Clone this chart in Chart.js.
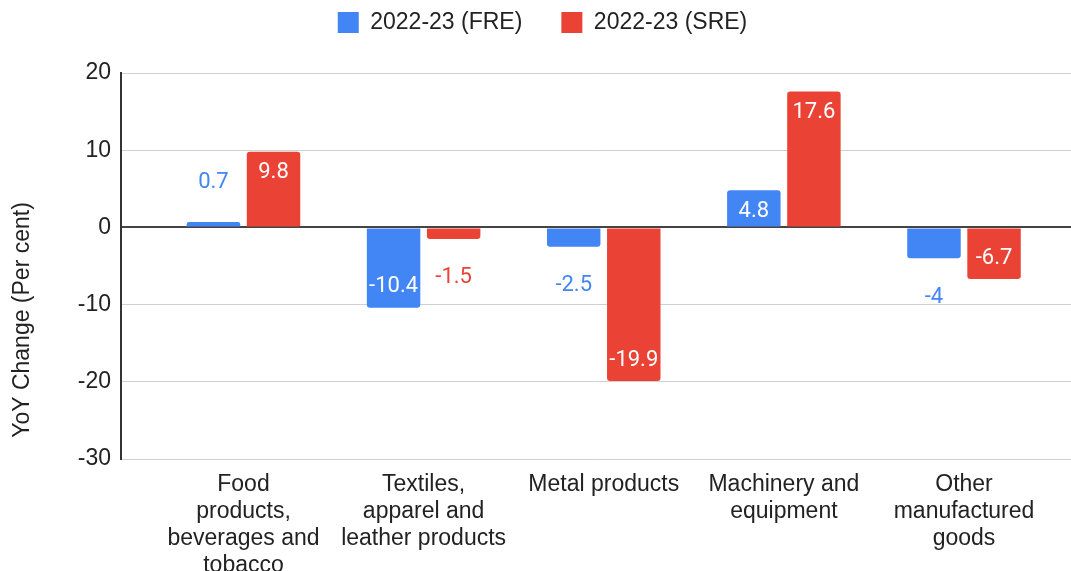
<!DOCTYPE html>
<html>
<head>
<meta charset="utf-8">
<script src="https://cdn.jsdelivr.net/npm/chart.js@4.4.1/dist/chart.umd.min.js"></script>
<style>
  html, body { margin: 0; padding: 0; background: #fff; }
</style>
</head>
<body>
<canvas id="chart" width="1071" height="571"></canvas>
<script>
// chart data
const categories = [
  ['Food', 'products,', 'beverages and', 'tobacco'],
  ['Textiles,', 'apparel and', 'leather products'],
  ['Metal products'],
  ['Machinery and', 'equipment'],
  ['Other', 'manufactured', 'goods']
];
const seriesNames = ['2022-23 (FRE)', '2022-23 (SRE)'];
const freValues = [0.7, -10.4, -2.5, 4.8, -4];
const sreValues = [9.8, -1.5, -19.9, 17.6, -6.7];
const yTicks = [20, 10, 0, -10, -20, -30];
const yTitle = 'YoY Change (Per cent)';

const BLUE = '#4285f4';
const RED = '#ea4335';
const FONT = "'Liberation Sans', Arial, sans-serif";

// bar value labels, inside the bar when it is tall enough, else beyond its end
const valueLabels = {
  id: 'valueLabels',
  afterDatasetsDraw(chart) {
    const ctx = chart.ctx;
    ctx.save();
    ctx.font = '22px Roboto, sans-serif';
    ctx.textAlign = 'center';
    ctx.textBaseline = 'middle';
    chart.data.datasets.forEach((ds, di) => {
      const meta = chart.getDatasetMeta(di);
      meta.data.forEach((bar, i) => {
        const v = ds.data[i].y;
        const len = Math.abs(bar.base - bar.y);
        const dir = v >= 0 ? 1 : -1;
        if (len > 34) {
          ctx.fillStyle = '#fff';
          ctx.fillText(String(v), bar.x, bar.y + dir * 21);
        } else {
          ctx.fillStyle = ds.backgroundColor;
          ctx.fillText(String(v), bar.x, bar.y - dir * 39);
        }
      });
    });
    ctx.restore();
  }
};

// y axis title, placed like the original (a bit below the plot middle)
const axisTitle = {
  id: 'axisTitle',
  afterDraw(chart) {
    const ctx = chart.ctx;
    ctx.save();
    ctx.translate(23, 320);
    ctx.rotate(-Math.PI / 2);
    ctx.font = '23px ' + FONT;
    ctx.fillStyle = '#222';
    ctx.textAlign = 'center';
    ctx.textBaseline = 'middle';
    ctx.fillText(yTitle, 0, 0);
    ctx.restore();
  }
};

// legend sits in a fixed 73px band at the top
const legendBand = {
  id: 'legendBand',
  beforeLayout(chart) {
    const lg = chart.legend;
    if (lg && !lg._banded) {
      const fit = lg.fit;
      lg.fit = function () {
        fit.call(this);
        this.height = 73;
      };
      lg._banded = true;
    }
  },
  afterLayout(chart) {
    const lg = chart.legend;
    lg.left += 14;
    lg.top = -28;
  }
};

const toPoints = vals => vals.map((v, i) => ({ x: i, y: v }));

new Chart(document.getElementById('chart'), {
  type: 'bar',
  data: {
    datasets: [
      {
        label: seriesNames[0],
        data: toPoints(freValues),
        backgroundColor: BLUE,
        borderWidth: 0,
        borderRadius: 3,
        categoryPercentage: 0.667,
        barPercentage: 0.89
      },
      {
        label: seriesNames[1],
        data: toPoints(sreValues),
        backgroundColor: RED,
        borderWidth: 0,
        borderRadius: 3,
        categoryPercentage: 0.667,
        barPercentage: 0.89
      }
    ]
  },
  options: {
    responsive: false,
    animation: false,
    devicePixelRatio: 1,
    layout: { padding: 0 },
    plugins: {
      legend: {
        position: 'top',
        labels: {
          boxWidth: 21,
          boxHeight: 21,
          padding: 39,
          color: '#222',
          font: { family: FONT, size: 23 }
        }
      },
      tooltip: { enabled: false }
    },
    scales: {
      x: {
        type: 'linear',
        offset: false,
        min: -0.68,
        max: 4.594,
        grid: { display: false },
        border: { display: false },
        ticks: {
          stepSize: 1,
          includeBounds: false,
          autoSkip: false,
          maxRotation: 0,
          padding: 4,
          color: '#222',
          font: { family: FONT, size: 23, lineHeight: '27px' },
          callback: v => (Number.isInteger(v) && categories[v]) ? categories[v] : ''
        },
        afterFit(scale) { scale.height = 112; }
      },
      y: {
        min: Math.min(...yTicks),
        max: Math.max(...yTicks),
        grid: {
          drawTicks: false,
          color: c => c.tick && c.tick.value === 0 ? '#444' : '#d0d0d0',
          lineWidth: c => c.tick && c.tick.value === 0 ? 2 : 1
        },
        border: { display: true, color: '#333', width: 2 },
        ticks: {
          stepSize: 10,
          padding: 10,
          color: '#222',
          font: { family: FONT, size: 23 }
        },
        afterFit(scale) { scale.width = 121; }
      }
    }
  },
  plugins: [valueLabels, axisTitle, legendBand]
});
</script>
</body>
</html>
